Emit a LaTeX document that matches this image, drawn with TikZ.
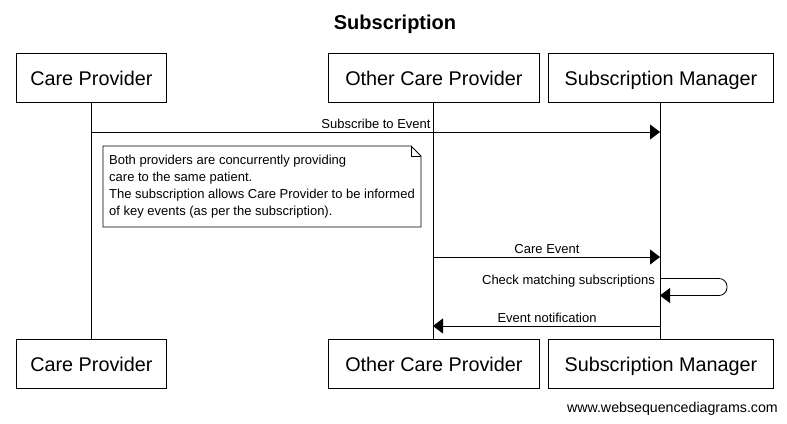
\documentclass[tikz,border=0pt]{standalone}
\usepackage{fontspec}
\setmainfont{Liberation Sans}
\usetikzlibrary{arrows.meta}
\begin{document}
\begin{tikzpicture}[x=1pt,y=-1pt,
  actor/.style={draw,line width=0.8pt,minimum width=#1,minimum height=49pt,inner sep=0pt,text height=16pt,text depth=0pt,font=\fontsize{19.8}{22}\selectfont,anchor=north west},
  life/.style={line width=0.8pt},
  msg/.style={line width=0.8pt,-{Triangle[length=10pt,width=15pt]}},
  mlabel/.style={font=\fontsize{13}{15}\selectfont,inner sep=0pt,anchor=base},
]
\useasboundingbox (0,0) rectangle (787,423);
\fill[white] (0,0) rectangle (787,423);
\node[font=\bfseries\fontsize{20}{24}\selectfont,anchor=base] (title) at (395,29) {Subscription};

\node[actor=150pt] (cpT) at (16,53) {Care Provider};
\node[actor=211pt] (ocpT) at (328,53) {Other Care Provider};
\node[actor=225pt] (smT) at (548,53) {Subscription Manager};
\node[actor=150pt] (cpB) at (16,339) {Care Provider};
\node[actor=211pt] (ocpB) at (328,339) {Other Care Provider};
\node[actor=225pt] (smB) at (548,339) {Subscription Manager};

\draw[life] (cpT.south -| 91,0) -- (cpB.north -| 91,0);
\draw[life] (ocpT.south -| 433,0) -- (ocpB.north -| 433,0);
\draw[life] (smT.south -| 660,0) -- (smB.north -| 660,0);

% Subscribe to Event
\coordinate (m1a) at (91,132);
\coordinate (m1b) at (660,132);
\draw[msg] (m1a) -- (m1b);
\node[mlabel] (l1) at (376,128.5) {Subscribe to Event};

% Note
\draw[line width=0.8pt,fill=white] (103,146) -- (411,146) -- (421,156) -- (421,227) -- (103,227) -- cycle;
\draw[line width=0.8pt] (411,146) -- (411,156) -- (421,156);
\node[font=\fontsize{13}{17}\selectfont,align=left,anchor=north west,inner sep=0pt] (note) at (109,154.5)
 {Both providers are concurrently providing\\care to the same patient.\\The subscription allows Care Provider to be informed\\of key events (as per the subscription).};

% Care Event
\coordinate (m2a) at (433,257);
\coordinate (m2b) at (660,257);
\draw[msg] (m2a) -- (m2b);
\node[mlabel] (l2) at (547,253.5) {Care Event};

% Self message
\coordinate (m3a) at (660,278.5);
\coordinate (m3b) at (660,295.5);
\draw[msg,rounded corners=8pt] (m3a) -- (727,278.5) -- (727,295.5) -- (m3b);
\node[mlabel,anchor=base east] (l3) at (655,284.5) {Check matching subscriptions};

% Event notification
\coordinate (m4a) at (660,326);
\coordinate (m4b) at (433,326);
\draw[msg] (m4a) -- (m4b);
\node[mlabel] (l4) at (547,322.5) {Event notification};

\node[font=\fontsize{14.2}{16}\selectfont,anchor=base east,inner sep=0pt] (wm) at (778,412) {www.websequencediagrams.com};
\end{tikzpicture}
\end{document}
